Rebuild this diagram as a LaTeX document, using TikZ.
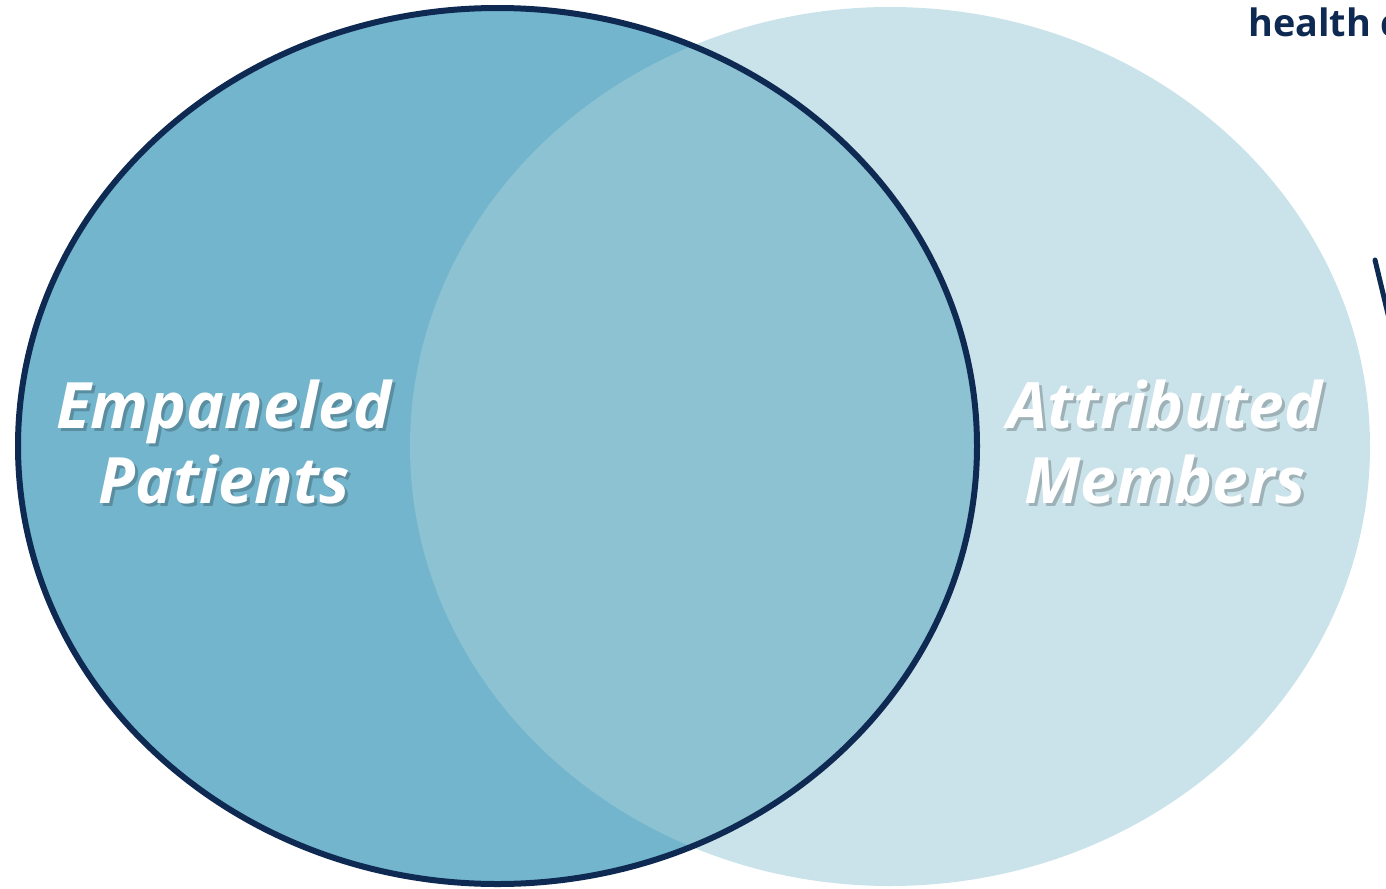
\documentclass[tikz,border=0pt]{standalone}
\usepackage{fontspec}
\setmainfont{Open Sans}
\usepackage{xcolor}
\usetikzlibrary{positioning}
\definecolor{NV}{HTML}{0F2A52}
\definecolor{EP}{HTML}{73B5CD}
\definecolor{AM}{HTML}{CAE3EA}
\definecolor{OV}{HTML}{8CC2D2}

\tikzset{
  setlabel/.style={text=white, align=center,
    font=\fontsize{36.4}{42.5}\selectfont\bfseries\itshape},
  setshadow/.style={setlabel, text=black, opacity=0.22}
}

\begin{document}
\begin{tikzpicture}[x=0.02cm, y=-0.02cm]
  \useasboundingbox (0,0) rectangle (1386,889);
  \clip (0,0) rectangle (1386,889);
  % the two sets
  \fill[AM] (890,446.5) ellipse [x radius=480, y radius=439.5];
  \fill[EP] (497.5,446) ellipse [x radius=479.5, y radius=438];
  \begin{scope}
    \clip (890,446.5) ellipse [x radius=480, y radius=439.5];
    \fill[OV] (497.5,446) ellipse [x radius=479.5, y radius=438];
  \end{scope}
  \draw[NV, line width=6*0.02cm] (497.5,446) ellipse [x radius=479.5, y radius=438];
  % labels
  \node[setshadow] at (227,445) {Empaneled\\Patients};
  \node[setlabel] (emp) at (224,442) {Empaneled\\Patients};
  \node[setshadow] at (1168,445) {Attributed\\Members};
  \node[setlabel] (att) at (1165,442) {Attributed\\Members};
  % cut-off bits at the right edge
  \node[anchor=base west, text=NV, inner sep=0pt,
        font=\fontsize{21.5}{21.5}\selectfont\bfseries] (hc) at (1248,36) {health c};
  \coordinate (vtop) at (1375,260);
  \coordinate (vbot) at (1393,335);
  \draw[NV, line width=5*0.02cm, line cap=round] (vtop) -- (vbot);
\end{tikzpicture}
\end{document}
